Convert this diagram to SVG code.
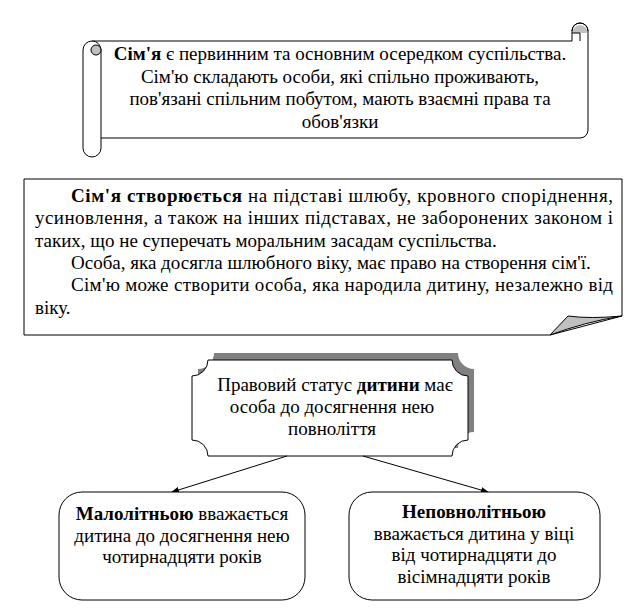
<svg xmlns="http://www.w3.org/2000/svg" width="637" height="613" viewBox="0 0 637 613">
<style>
.t{font-family:"Liberation Serif","Times New Roman","DejaVu Serif",serif;font-size:19px;fill:#000}
.b{font-weight:bold}
.ln{fill:none;stroke:#000;stroke-width:1}
.sh{fill:#fff;stroke:#000;stroke-width:1}
.gr{fill:#c0c0c0;stroke:#000;stroke-width:1}
</style>
<defs>
<marker id="ah" markerWidth="8" markerHeight="6" refX="7" refY="3" orient="auto" markerUnits="userSpaceOnUse">
<path d="M0,0 L8,3 L0,6 Z" fill="#000"/>
</marker>
</defs>
<rect width="637" height="613" fill="#fff"/>

<g id="scroll">
<path class="sh" d="M92,41 L572,41 L572,31 A8,8 0 0 1 588,31 L588,130 A8,8 0 0 1 580,138 L101,138"/>
<path d="M573,30 A7.5,7.5 0 0 1 587,30 L587,33 L573,33 Z" fill="#c0c0c0"/>
<path class="ln" d="M572,31 A8,8 0 0 1 588,31"/>
<path class="ln" d="M572,33 L580,33 L580,41"/>
<path class="sh" d="M83,50 A9,9 0 0 1 101,50 L101,148 A9,9 0 0 1 83,148 Z"/>
<circle class="gr" cx="96" cy="50" r="5"/>
<text class="t" x="340" y="60" text-anchor="middle"><tspan class="b">Сім'я</tspan> є первинним та основним осередком суспільства.</text>
<text class="t" x="340" y="82.5" text-anchor="middle">Сім'ю складають особи, які спільно проживають,</text>
<text class="t" x="340" y="105" text-anchor="middle">пов'язані спільним побутом, мають взаємні права та</text>
<text class="t" x="340" y="127.5" text-anchor="middle">обов'язки</text>
</g>

<g id="family-creation">
<path class="sh" d="M24,179 L622,179 L622,316 L550,335 L24,335 Z"/>
<path class="gr" d="M550,335 L568,316 Q590,319 622,316 Q585,322 550,335 Z"/>
<text class="t" x="71" y="202" textLength="542" lengthAdjust="spacing"><tspan class="b">Сім'я створюється</tspan> на підставі шлюбу, кровного споріднення,</text>
<text class="t" x="35" y="224.3" textLength="578" lengthAdjust="spacing">усиновлення, а також на інших підставах, не заборонених законом і</text>
<text class="t" x="35" y="246.6">таких, що не суперечать моральним засадам суспільства.</text>
<text class="t" x="71" y="268.9">Особа, яка досягла шлюбного віку, має право на створення сім'ї.</text>
<text class="t" x="71" y="291.2" textLength="542" lengthAdjust="spacing">Сім'ю може створити особа, яка народила дитину, незалежно від</text>
<text class="t" x="35" y="313.5">віку.</text>
</g>

<g id="child-status">
<path fill="#808080" d="M214,353 L458,353 A16,16 0 0 0 474,369 L474,432 A16,16 0 0 0 458,448 L214,448 A16,16 0 0 0 198,432 L198,369 A16,16 0 0 0 214,353 Z"/>
<path class="sh" d="M208,360 L452,360 A16,16 0 0 0 468,376 L468,440 A16,16 0 0 0 452,456 L208,456 A16,16 0 0 0 192,440 L192,376 A16,16 0 0 0 208,360 Z"/>
<text class="t" x="335" y="391" text-anchor="middle">Правовий статус <tspan class="b">дитини</tspan> має</text>
<text class="t" x="332" y="413" text-anchor="middle">особа до досягнення нею</text>
<text class="t" x="332" y="435" text-anchor="middle">повноліття</text>
</g>

<g id="connectors">
<line class="ln" x1="287" y1="456" x2="172" y2="492" marker-end="url(#ah)"/>
<line class="ln" x1="363" y1="456" x2="488" y2="492" marker-end="url(#ah)"/>
</g>

<g id="minor">
<rect class="sh" x="59" y="492" width="246" height="108" rx="23"/>
<text class="t" x="182" y="520" text-anchor="middle"><tspan class="b">Малолітньою</tspan> вважається</text>
<text class="t" x="182" y="541.5" text-anchor="middle">дитина до досягнення нею</text>
<text class="t" x="182" y="563" text-anchor="middle">чотирнадцяти років</text>
</g>

<g id="underage">
<rect class="sh" x="349" y="492" width="251" height="108" rx="23"/>
<text class="t b" x="474" y="518" text-anchor="middle">Неповнолітньою</text>
<text class="t" x="474" y="539.5" text-anchor="middle">вважається дитина у віці</text>
<text class="t" x="474" y="561" text-anchor="middle">від чотирнадцяти до</text>
<text class="t" x="474" y="582.5" text-anchor="middle">вісімнадцяти років</text>
</g>
</svg>
